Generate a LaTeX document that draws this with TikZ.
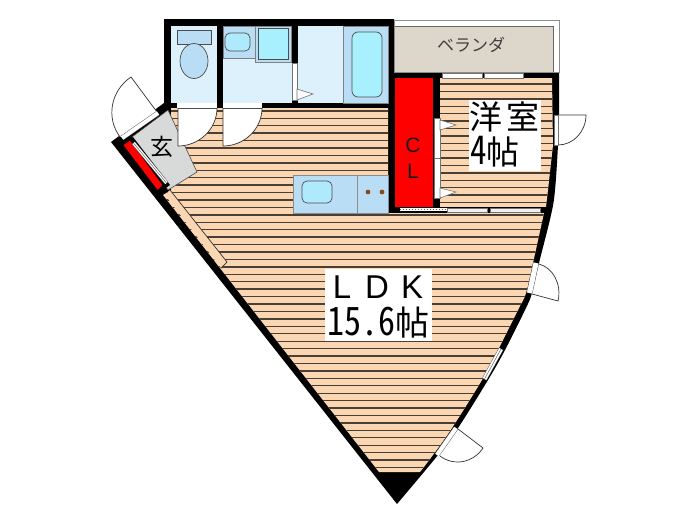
\documentclass[tikz,border=0pt]{standalone}
\usepackage{fontspec}
\newfontfamily\cjk{Noto Sans CJK JP}
\newfontfamily\cjkhalf[RawFeature=+hwid]{Noto Sans CJK JP}
\newfontfamily\latinlabel{Liberation Sans}
\usetikzlibrary{calc}
\definecolor{floorpeach}{HTML}{FBD6B2}
\definecolor{plankline}{HTML}{4A3F35}
\definecolor{wetblue}{HTML}{DDF1FD}
\definecolor{fixblue}{HTML}{BADDF6}
\definecolor{tubcyan}{HTML}{A9F0FE}
\definecolor{verandagray}{HTML}{DDD6CB}
\definecolor{entrygray}{HTML}{D8DADA}
\definecolor{burner}{HTML}{8A4A1E}
\tikzset{
    plank/.style={plankline, line width=1.4pt},
    fixture/.style={draw=black!70, line width=0.7pt},
    sash/.style={draw=black!55, fill=white, line width=0.6pt},
}
\newcommand{\doorleaf}[3]{% hinge, leaf tip, jamb end
    \fill[white] (#1) -- (#2) .. controls ($(#2)+0.55*(#3)-0.55*(#1)$) and ($(#3)+0.55*(#2)-0.55*(#1)$) .. (#3) -- cycle;
    \draw[black!80, line width=0.7pt] (#1) -- (#2) .. controls ($(#2)+0.55*(#3)-0.55*(#1)$) and ($(#3)+0.55*(#2)-0.55*(#1)$) .. (#3);
}
\newcommand{\glazing}[3]{% end, end, width
    \draw[black!60, line width=#3pt] (#1) -- (#2);
    \draw[white, line width=#3pt-1pt] (#1) -- (#2);
}
\begin{document}
\begin{tikzpicture}[x=1pt, y=-1pt]
    \useasboundingbox (0,0) rectangle (700,525);
    % outline of the flat, everything else sits on top of it
    \fill[black] (111,142) -- (164,103) -- (164,19) -- (394,19) -- (394,72) -- (559,72) --
        plot[smooth, tension=0.6] coordinates {(559,72) (559,113) (558,145) (555,190) (551,215) (539,263) (532,293) (525,310) (505,350) (488,380) (458,428) (438,455) (397,504)} -- cycle;
    % veranda
    \draw[black!45, fill=white, line width=0.8pt] (394,20) rectangle (559,72);
    \fill[verandagray] (395,26) rectangle (553,72);
    \draw[black!60, line width=0.7pt] (395,26) -- (553,26) -- (553,72);
    % floors
    \begin{scope}
        \clip (171,108) -- (388,108) -- (388,213) -- (544,213) --
            plot[smooth, tension=0.6] coordinates {(544,213) (533,263) (526,293) (518,310) (498,350) (482,380) (452,428) (433,455) (420,472)} --
            (379,472) -- (163,195) -- (171,190) -- cycle;
        \fill[floorpeach] (160,100) rectangle (560,480);
        \foreach \k in {-1,...,47} {
            \draw[plank] (160,{118.3+7.43*\k}) -- (560,{118.3+7.43*\k});
        }
    \end{scope}
    \begin{scope}
        \clip (440,78) -- (552,78) -- (553,145) -- (548,190) -- (546,207) -- (440,207) -- cycle;
        \fill[floorpeach] (440,78) rectangle (560,207);
        \foreach \k in {0,...,16} {
            \draw[plank] (440,{84+7.4*\k}) -- (560,{84+7.4*\k});
        }
    \end{scope}
    % strip along the slanted wall
    \fill[floorpeach] (165,195) -- (170,190) -- (227,262) -- (221,268) -- cycle;
    \draw[black!80, line width=0.7pt] (170,190) -- (227,262) -- (221,268);
    % closet
    \fill[red] (395,78) rectangle (433,207);
    % toilet
    \fill[wetblue] (171,26) rectangle (217,103);
    \draw[fixture, fill=fixblue] (177,30) rectangle (211,44);
    \draw[fixture, fill=fixblue] (194,61) ellipse (14 and 17.5);
    % washroom
    \fill[wetblue] (223,26) rectangle (292,103);
    \draw[black!50, fill=fixblue, line width=0.6pt] (223,26) rectangle (255,58);
    \draw[fixture, fill=tubcyan!70!fixblue, rounded corners=5pt] (225,33) rectangle (250,51);
    \draw[black!50, fill=fixblue, line width=0.6pt] (255,26) rectangle (291,62);
    \draw[fixture, fill=tubcyan] (258,28) rectangle (288,59);
    % bathroom
    \fill[wetblue] (298,26) rectangle (388,103);
    \draw[black!50, fill=fixblue, line width=0.6pt] (343,26) rectangle (388,103);
    \draw[fixture, fill=tubcyan, rounded corners=6pt] (352,32) rectangle (382,97);
    % kitchen
    \draw[black!45, fill=fixblue, line width=0.6pt] (293,175) rectangle (388,213);
    \draw[black!45, line width=0.6pt] (357,175) -- (357,213);
    \draw[fixture, fill=tubcyan!70!fixblue, rounded corners=5pt] (302,181) rectangle (332,203);
    \fill[burner] (368,192) circle (2.4);
    \fill[burner] (382,192) circle (2.4);
    % entrance
    \draw[black!70, fill=entrygray, line width=0.6pt] (132,137) -- (168,110) -- (197,172) -- (168,190) -- cycle;
    \fill[black] (125,143) -- (133,137) -- (170,185) -- (160,192) -- cycle;
    \fill[red] (123.5,145) -- (130,140.7) -- (162.3,185) -- (157.7,190) -- cycle;
    \glazing{133.5,143}{166.5,183}{4}
    \draw[black!60, line width=0.5pt] (133.5,143) -- (166.5,183);
    \doorleaf{157,112}{131,77}{120,137}
    \glazing{122,138}{158,113}{5}
    % doors to toilet and washroom
    \fill[white] (177,103) rectangle (217,108);
    \fill[white] (223,103) rectangle (262,108);
    \doorleaf{178,108}{178,146}{217,108}
    \doorleaf{223,108}{223,146}{262,108}
    \draw[black!70, line width=0.6pt] (178,108) -- (217,108) (223,108) -- (262,108);
    % folded door of the bathroom
    \draw[sash] (292,63) rectangle (297,100);
    \draw[sash] (297,89) -- (313,94) -- (297,100) -- cycle;
    % sliding windows and closet doors
    \draw[sash] (442,73) rectangle (482,78);
    \draw[sash] (484,73) rectangle (523,78);
    \draw[sash, fill=entrygray!40] (447,208) rectangle (487,212);
    \draw[sash, fill=entrygray!40] (490,208) rectangle (540,212);
    \draw[white, line width=3pt] (400,209.5) -- (447,209.5);
    \draw[black!60, dotted, line width=1pt] (400,209.5) -- (447,209.5);
    \draw[sash] (434,118) rectangle (440,158);
    \draw[sash] (434,158) rectangle (440,198);
    \draw[sash] (440,120) -- (456,125) -- (440,130) -- cycle;
    \draw[sash] (440,188) -- (456,192) -- (440,198) -- cycle;
    % doors and window on the curved wall
    \doorleaf{558,115}{586,115}{558,145}
    \draw[sash] (554,115) rectangle (558,145);
    \doorleaf{532,294}{558,301}{539,264}
    \glazing{536,263}{529.5,293}{6}
    \glazing{501,349}{484.5,379}{5}
    \draw[black!60, line width=0.5pt] (501,349) -- (484.5,379);
    \doorleaf{458,429}{483,448}{440,456}
    \glazing{456,428}{437,455}{5}
    % labels
    \node[font=\cjk\fontsize{17}{17}\selectfont, text=black!75] (veranda) at (471,45) {ベランダ};
    \node[font=\cjk\fontsize{23}{23}\selectfont] (genkan) at (162,147) {玄};
    \node[font=\latinlabel\fontsize{21}{21}\selectfont, text=black!90] (clC) at (413,145) {C};
    \node[font=\latinlabel\fontsize{21}{21}\selectfont, text=black!90] (clL) at (413,171.5) {L};
    \fill[white] (469,100) rectangle (541,171);
    \node[font=\cjk\fontsize{33}{33}\selectfont, anchor=west, inner sep=0pt] (youshitsu) at (469,117) {洋\hspace{4pt}室};
    \node[font=\cjkhalf\fontsize{33}{33}\selectfont, anchor=west, inner sep=0pt] (yojo) at (470,152) {\scalebox{1}[1.2]{4}帖};
    \fill[white] (325,269) rectangle (432,341);
    \node[font=\latinlabel\fontsize{33}{33}\selectfont, inner sep=0pt, anchor=base] (ldk) at (378,298) {L\hspace{14pt}D\hspace{12pt}K};
    \node[font=\cjkhalf\fontsize{34}{34}\selectfont, inner sep=0pt, anchor=base] (ldkarea) at (378,335) {\scalebox{1}[1.15]{15.6}帖};
\end{tikzpicture}
\end{document}
